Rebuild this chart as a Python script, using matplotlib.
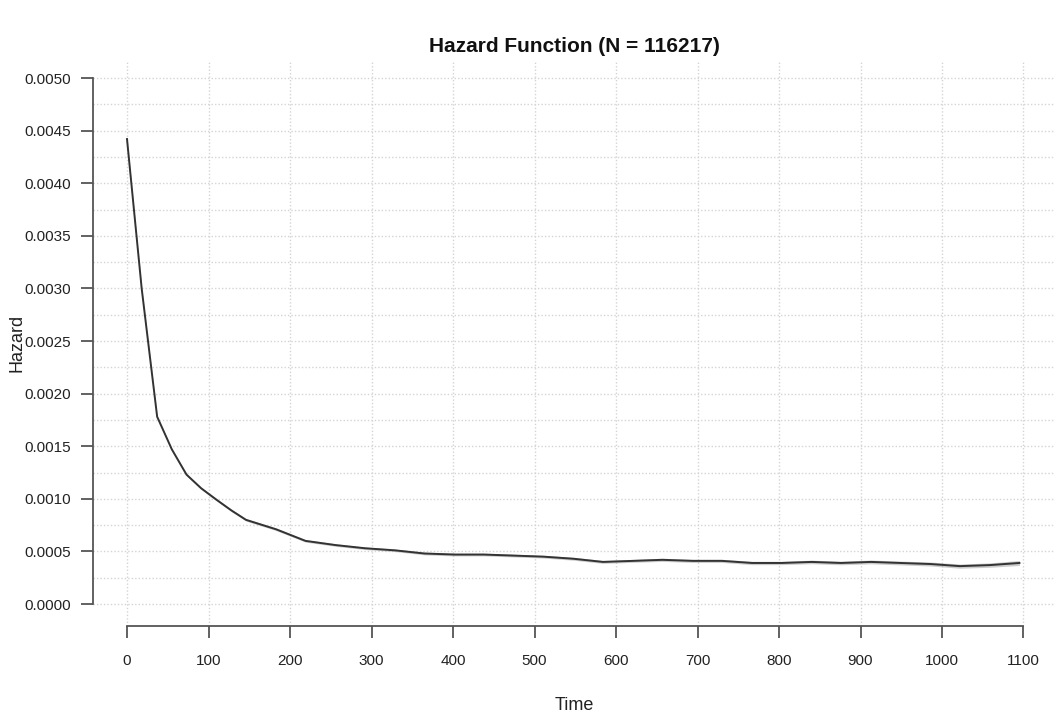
import numpy as np
import matplotlib
matplotlib.use("Agg")
import matplotlib.pyplot as plt

plt.rcParams['font.family'] = ['Liberation Sans', 'DejaVu Sans']

# hazard estimate (time in days)
time = [0, 18, 37, 55, 73, 91, 110, 128, 146, 183, 219, 256, 292, 329, 365,
        402, 438, 475, 511, 548, 584, 621, 657, 694, 730, 767, 803, 840, 876,
        913, 949, 986, 1022, 1059, 1095]
hazard = [0.00442, 0.00300, 0.00178, 0.00147, 0.00123, 0.00110, 0.00099,
          0.00089, 0.00080, 0.00071, 0.00060, 0.00056, 0.00053, 0.00051,
          0.00048, 0.00047, 0.00047, 0.00046, 0.00045, 0.00043, 0.00040,
          0.00041, 0.00042, 0.00041, 0.00041, 0.00039, 0.00039, 0.00040,
          0.00039, 0.00040, 0.00039, 0.00038, 0.00036, 0.00037, 0.00039]
ci_half = [0.000014, 0.000012, 0.000011, 0.000011, 0.000011, 0.000011,
           0.000011, 0.000011, 0.000012, 0.000012, 0.000012, 0.000012,
           0.000012, 0.000012, 0.000013, 0.000013, 0.000013, 0.000013,
           0.000013, 0.000014, 0.000014, 0.000014, 0.000015, 0.000015,
           0.000015, 0.000016, 0.000016, 0.000017, 0.000017, 0.000018,
           0.000018, 0.000019, 0.000020, 0.000021, 0.000024]

x_ticks = list(range(0, 1101, 100))
y_ticks = [0.0, 0.0005, 0.0010, 0.0015, 0.0020, 0.0025, 0.0030, 0.0035,
           0.0040, 0.0045, 0.0050]
y_grid = list(np.arange(0, 0.00501, 0.00025))

W, H = 1055, 715
fig = plt.figure(figsize=(W / 100, H / 100), dpi=100)
left, right, top, bottom = 93, 1055, 60, 626
ax = fig.add_axes([left / W, 1 - bottom / H, (right - left) / W, (bottom - top) / H])

t = np.array(time)
h = np.array(hazard)
c = np.array(ci_half)
ax.fill_between(t, h - c, h + c, color='#aaaaaa', alpha=0.6, lw=0)
ax.plot(t, h, color='#333333', lw=1.4)

# grid
for yv in y_grid:
    ax.axhline(yv, color='#d4d4d4', lw=1, ls=(0, (1, 1.5)), zorder=0)
for xv in x_ticks:
    ax.axvline(xv, color='#d4d4d4', lw=1, ls=(0, (1, 1.5)), zorder=0)

ax.set_xlim(-(127 - 93) / 0.815, (1055 - 127) / 0.815)
ax.set_ylim(-(626 - 604) * 9.506e-6, (604 - 60) * 9.506e-6)

for s in ['top', 'right']:
    ax.spines[s].set_visible(False)
ax.spines['left'].set_bounds(0, 0.005)
ax.spines['bottom'].set_bounds(0, 1100)
for s in ['left', 'bottom']:
    ax.spines[s].set_color('#555555')
    ax.spines[s].set_linewidth(1.3)

ax.set_xticks(x_ticks)
ax.set_yticks(y_ticks)
ax.set_yticklabels(['%.4f' % v for v in y_ticks])
ax.tick_params(axis='both', direction='out', length=8.5, width=1.3, color='#555555',
               labelsize=11, labelcolor='#222222')
ax.tick_params(axis='x', pad=12)
ax.tick_params(axis='y', pad=7)

cx = (left + right) / 2 / W
cy = 1 - (top + bottom) / 2 / H
fig.text(cx, 1 - 47 / H, 'Hazard Function (N = 116217)', ha='center', va='center',
         fontsize=15, fontweight='bold', color='#111111')
fig.text(cx, 1 - 705 / H, 'Time', ha='center', va='center', fontsize=13, color='#222222')
fig.text(17 / W, cy, 'Hazard', ha='center', va='center', rotation=90,
         fontsize=13, color='#222222')

fig.savefig('out.png', dpi=100)
